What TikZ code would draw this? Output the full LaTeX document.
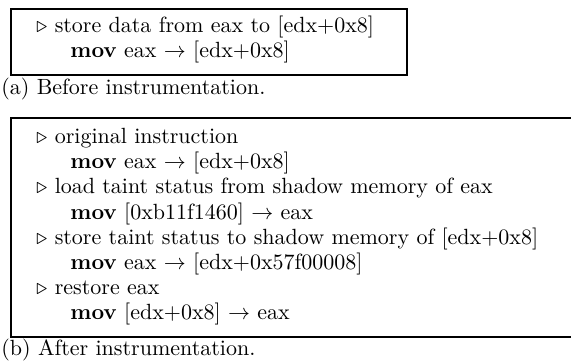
\documentclass[tikz,border=0pt]{standalone}
\begin{document}
\begin{tikzpicture}[x=0.4545pt,y=-0.4545pt]
  \tikzset{codeline/.style={anchor=base west,inner sep=0pt},
    codebox/.style={line width=0.9pt}}
  \clip (0,0) rectangle (571,361);
  % before instrumentation
  \draw[codebox] (11,9) rectangle (407,75);
  \node[codeline] (cmta) at (36,33) {$\triangleright$ store data from eax to [edx+0x8]};
  \node[codeline] (insa) at (70,58) {\textbf{mov} eax $\rightarrow$ [edx+0x8]};
  \node[codeline] (capa) at (1,94.5) {(a) Before instrumentation.};
  % after instrumentation
  \draw[codebox] (11,118) rectangle (590,337);
  \node[codeline] (cmtb1) at (36,144) {$\triangleright$ original instruction};
  \node[codeline] (insb1) at (70,169) {\textbf{mov} eax $\rightarrow$ [edx+0x8]};
  \node[codeline] (cmtb2) at (36,194) {$\triangleright$ load taint status from shadow memory of eax};
  \node[codeline] (insb2) at (70,219) {\textbf{mov} [0xb11f1460] $\rightarrow$ eax};
  \node[codeline] (cmtb3) at (36,244) {$\triangleright$ store taint status to shadow memory of [edx+0x8]};
  \node[codeline] (insb3) at (70,269) {\textbf{mov} eax $\rightarrow$ [edx+0x57f00008]};
  \node[codeline] (cmtb4) at (36,294) {$\triangleright$ restore eax};
  \node[codeline] (insb4) at (70,319) {\textbf{mov} [edx+0x8] $\rightarrow$ eax};
  \node[codeline] (capb) at (1,355.5) {(b) After instrumentation.};
\end{tikzpicture}
\end{document}
